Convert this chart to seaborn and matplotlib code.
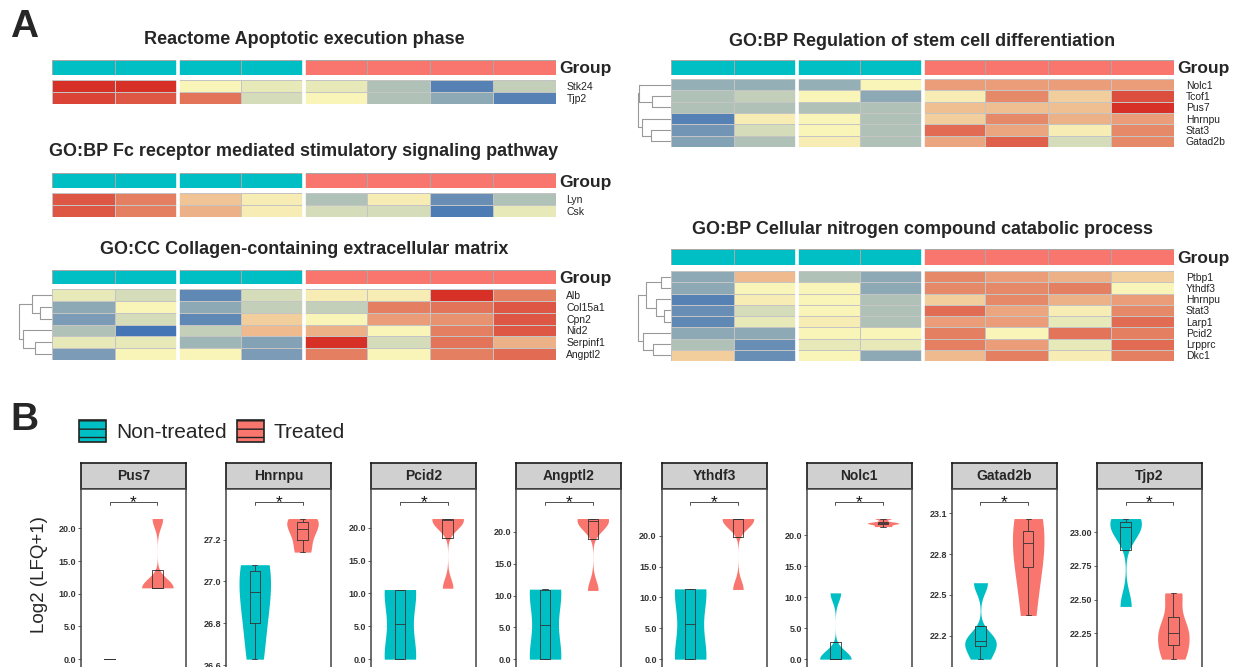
import numpy as np
import pandas as pd
import seaborn as sns
import matplotlib.pyplot as plt
from matplotlib.colors import LinearSegmentedColormap, ListedColormap
from matplotlib.patches import Patch

#%% data
TEAL = '#00BFC4'
SALMON = '#F8766D'
groups = ['Non-treated'] * 4 + ['Treated'] * 4
group_order = ['Non-treated', 'Treated']

# row z-scores (-1 blue, 0 yellow, 1 red)
apop_genes = ['Stk24', 'Tjp2']
apop_z = [
    [1.0, 1.0, 0.0, -0.1, -0.1, -0.4, -0.9, -0.3],
    [0.9, 0.8, 0.65, -0.2, 0.0, -0.4, -0.6, -0.9],
]

fc_genes = ['Lyn', 'Csk']
fc_z = [
    [0.8, 0.6, 0.25, 0.05, -0.4, 0.05, -0.8, -0.4],
    [0.8, 0.6, 0.35, 0.05, -0.2, -0.2, -0.95, -0.1],
]

coll_genes = ['Alb', 'Col15a1', 'Cpn2', 'Nid2', 'Serpinf1', 'Angptl2']
coll_z = [
    [-0.1, -0.2, -0.85, -0.2, 0.05, 0.05, 1.0, 0.6],
    [-0.6, 0.0, -0.6, -0.3, -0.3, 0.6, 0.65, 0.8],
    [-0.7, -0.2, -0.85, 0.2, 0.0, 0.45, 0.5, 0.8],
    [-0.4, -1.0, -0.3, 0.3, 0.35, 0.0, 0.6, 0.8],
    [-0.1, -0.1, -0.5, -0.65, 1.0, -0.2, 0.65, 0.35],
    [-0.7, 0.0, 0.0, -0.7, 0.6, 0.0, 0.6, 0.7],
]
coll_tree = [(1, 2, 0.37), (0, 6, 0.60), (4, 5, 0.52), (3, 8, 0.87), (7, 9, 1.0)]

stem_genes = ['Nolc1', 'Tcof1', 'Pus7', 'Hnrnpu', 'Stat3', 'Gatad2b']
stem_z = [
    [-0.55, -0.55, -0.55, 0.0, 0.45, 0.45, 0.45, 0.45],
    [-0.4, -0.3, 0.0, -0.6, 0.05, 0.55, 0.2, 0.85],
    [-0.4, -0.4, -0.4, -0.4, 0.28, 0.28, 0.28, 1.0],
    [-0.9, 0.05, 0.0, -0.4, 0.2, 0.55, 0.35, 0.45],
    [-0.75, -0.2, 0.0, -0.4, 0.7, 0.4, 0.05, 0.55],
    [-0.65, -0.4, 0.05, -0.4, 0.4, 0.75, -0.2, 0.55],
]
stem_tree = [(1, 2, 0.57), (0, 6, 0.96), (4, 5, 0.62), (3, 8, 0.87), (7, 9, 1.0)]

nitro_genes = ['Ptbp1', 'Ythdf3', 'Hnrnpu', 'Stat3', 'Larp1', 'Pcid2', 'Lrpprc', 'Dkc1']
nitro_z = [
    [-0.6, 0.3, -0.4, -0.6, 0.55, 0.45, 0.35, 0.2],
    [-0.6, 0.0, 0.0, -0.6, 0.55, 0.55, 0.6, 0.0],
    [-0.9, 0.05, 0.0, -0.4, 0.2, 0.55, 0.35, 0.45],
    [-0.8, -0.2, 0.0, -0.4, 0.7, 0.4, 0.05, 0.55],
    [-0.85, -0.1, 0.05, -0.4, 0.45, 0.45, -0.1, 0.7],
    [-0.6, -0.6, 0.0, 0.0, 0.6, 0.0, 0.65, 0.6],
    [-0.4, -0.8, -0.1, -0.1, 0.6, 0.45, -0.1, 0.7],
    [0.2, -0.8, 0.0, -0.6, 0.3, 0.6, 0.05, 0.6],
]
nitro_tree = [(0, 1, 0.31), (3, 4, 0.21), (2, 9, 0.46), (8, 10, 0.75),
              (6, 7, 0.56), (5, 12, 0.84), (11, 13, 1.0)]

# Log2(LFQ+1) per protein, 4 replicates per group
genes_b = ['Pus7', 'Hnrnpu', 'Pcid2', 'Angptl2', 'Ythdf3', 'Nolc1', 'Gatad2b', 'Tjp2']
nt_vals = [
    [0.0, 0.0, 0.0, 0.0],
    [26.63, 26.86, 27.04, 27.08],
    [0.0, 0.1, 10.5, 10.6],
    [0.0, 0.0, 10.8, 11.0],
    [0.0, 0.0, 11.3, 11.4],
    [0.0, 0.0, 0.05, 10.7],
    [22.03, 22.155, 22.165, 22.59],
    [22.45, 23.01, 23.07, 23.10],
]
tr_vals = [
    [10.9, 10.9, 11.0, 21.5],
    [27.14, 27.22, 27.28, 27.30],
    [10.8, 21.0, 21.3, 21.4],
    [10.8, 21.5, 21.9, 22.1],
    [11.3, 22.6, 22.7, 22.8],
    [21.4, 21.9, 22.0, 22.7],
    [22.35, 22.82, 22.94, 23.06],
    [22.06, 22.20, 22.31, 22.55],
]
b_ticks = [
    [0, 5, 10, 15, 20],
    [26.6, 26.8, 27.0, 27.2],
    [0, 5, 10, 15, 20],
    [0, 5, 10, 15, 20],
    [0, 5, 10, 15, 20],
    [0, 5, 10, 15, 20],
    [22.2, 22.5, 22.8, 23.1],
    [22.25, 22.5, 22.75, 23.0],
]
b_decimals = [1, 1, 1, 1, 1, 1, 1, 2]
# bandwidth multiplier for (non-treated, treated) violins
b_bw_adjust = [(1, 1), (1.3, 1), (1, 1), (1, 1), (1, 1), (1, 1), (1, 2.2), (1, 1)]

#%% style
sns.set_theme(style='white')
plt.rcParams['font.family'] = ['Liberation Sans', 'DejaVu Sans']
plt.rcParams['hatch.color'] = '#222222'

W, H = 1242, 667
fig = plt.figure(figsize=(W / 100, H / 100), dpi=100)
heat_cmap = LinearSegmentedColormap.from_list('pheat', ['#4575B4', '#F9F6BA', '#D73027'])


def px_axes(x0, y0, x1, y1):
    """Axes from pixel box (top-left origin)."""
    return fig.add_axes([x0 / W, 1 - y1 / H, (x1 - x0) / W, (y1 - y0) / H])


def draw_tree(ax, merges, n):
    pos = {i: i + 0.5 for i in range(n)}
    hgt = {i: 0.0 for i in range(n)}
    for k, (a, b, h) in enumerate(merges):
        for c in (a, b):
            ax.plot([hgt[c], h], [pos[c], pos[c]], color='#9a9a9a', lw=0.8)
        ax.plot([h, h], [pos[a], pos[b]], color='#9a9a9a', lw=0.8)
        pos[n + k] = (pos[a] + pos[b]) / 2
        hgt[n + k] = h
    ax.set_xlim(1.03, 0)
    ax.set_ylim(n, 0)
    ax.axis('off')


def draw_heatmap(title, genes, vals, x0, x1, y_title, y_group, y_cells,
                 tree=None, tree_x0=None, label_pad=7.5):
    fig.text((x0 + x1) / 2 / W, 1 - y_title / H, title, ha='center', va='center',
             fontsize=13, fontweight='bold')

    gax = px_axes(x0, y_group[0], x1, y_group[1])
    codes = pd.DataFrame([[group_order.index(g) for g in groups]], index=['Group'])
    sns.heatmap(codes, ax=gax, cmap=ListedColormap([TEAL, SALMON]), vmin=0, vmax=1,
                cbar=False, linewidths=0.6, linecolor='#a8a8a8', xticklabels=False,
                yticklabels=True)
    gax.yaxis.tick_right()
    gax.tick_params(axis='y', length=0, pad=2.5, labelsize=12.5, rotation=0)
    for t in gax.get_yticklabels():
        t.set_fontweight('bold')

    hax = px_axes(x0, y_cells[0], x1, y_cells[1])
    df = pd.DataFrame(vals, index=genes)
    sns.heatmap(df, ax=hax, cmap=heat_cmap, vmin=-1, vmax=1, cbar=False,
                linewidths=0.4, linecolor='#c4c4c4', xticklabels=False, yticklabels=True)
    hax.yaxis.tick_right()
    hax.tick_params(axis='y', length=0, pad=label_pad, labelsize=7.5, rotation=0,
                    labelcolor='#222222')
    for t in hax.get_yticklabels():
        t.set_horizontalalignment('left')

    # column gaps between sample blocks
    for ax in (gax, hax):
        for gx in (2, 4):
            ax.axvline(gx, color='white', lw=2.6)

    if tree is not None:
        tax = px_axes(tree_x0, y_cells[0], x0, y_cells[1])
        draw_tree(tax, tree, len(genes))


#%% panel A
fig.text(10 / W, 1 - 37 / H, 'A', fontsize=28, fontweight='bold', va='baseline')

draw_heatmap('Reactome Apoptotic execution phase', apop_genes, apop_z,
             52, 556, 40, (60, 75), (80, 104))
draw_heatmap('GO:BP Fc receptor mediated stimulatory signaling pathway', fc_genes, fc_z,
             52, 556, 152, (173, 188), (193, 217))
draw_heatmap('GO:CC Collagen-containing extracellular matrix', coll_genes, coll_z,
             52, 556, 250, (270, 284), (289, 360), tree=coll_tree, tree_x0=18)
draw_heatmap('GO:BP Regulation of stem cell differentiation', stem_genes, stem_z,
             671, 1174, 41, (60, 75), (79, 147), tree=stem_tree, tree_x0=637,
             label_pad=8.5)
draw_heatmap('GO:BP Cellular nitrogen compound catabolic process', nitro_genes, nitro_z,
             671, 1174, 229, (249, 265), (271, 361), tree=nitro_tree, tree_x0=637,
             label_pad=8.5)

#%% panel B
fig.text(10 / W, 1 - 430 / H, 'B', fontsize=28, fontweight='bold', va='baseline')
fig.text(40 / W, 1 - 575 / H, 'Log2 (LFQ+1)', rotation=90, ha='center', va='center',
         fontsize=13.5)

handles = [Patch(facecolor=TEAL, edgecolor='#222222', linewidth=1.2, hatch='--'),
           Patch(facecolor=SALMON, edgecolor='#222222', linewidth=1.2, hatch='--')]
fig.legend(handles, group_order, loc='center left', bbox_to_anchor=(79 / W, 1 - 431 / H),
           ncol=2, frameon=False, fontsize=15, handlelength=1.3, handleheight=1.3,
           handletextpad=0.5, columnspacing=0.45, borderaxespad=0, borderpad=0)


def nrd0(kde):
    """R's default bandwidth (bw.nrd0) as a factor of the sample sd."""
    x = np.asarray(kde.dataset).ravel()
    sd = x.std(ddof=1)
    if sd == 0:
        return 1.0
    q1, q3 = np.percentile(x, [25, 75])
    lo = min(sd, (q3 - q1) / 1.34)
    if lo == 0:
        lo = sd
    return 0.9 * lo * len(x) ** -0.2 / sd


palette = dict(zip(group_order, [TEAL, SALMON]))
for i, gene in enumerate(genes_b):
    x0 = 81 + 145.14 * i
    sub = pd.DataFrame({
        'group': ['Non-treated'] * len(nt_vals[i]) + ['Treated'] * len(tr_vals[i]),
        'value': nt_vals[i] + tr_vals[i],
    })

    sax = px_axes(x0, 463, x0 + 105, 489)
    sax.set_facecolor('#D0D0D0')
    sax.set_xticks([])
    sax.set_yticks([])
    for sp in sax.spines.values():
        sp.set_color('#1a1a1a')
        sp.set_linewidth(1.2)
    sax.text(0.5, 0.5, gene, ha='center', va='center', fontsize=10, fontweight='bold',
             transform=sax.transAxes)

    ax = px_axes(x0, 489, x0 + 105, 669)
    for g, adj in zip(group_order, b_bw_adjust[i]):
        sns.violinplot(data=sub[sub['group'] == g], x='group', y='value', order=group_order,
                       color=palette[g], cut=0, density_norm='width', width=0.66,
                       inner=None, linewidth=0, saturation=1, bw_method=nrd0,
                       bw_adjust=adj, ax=ax)
    sns.boxplot(data=sub, x='group', y='value', order=group_order, width=0.22, fill=False,
                color='#333333', linewidth=0.6, showfliers=False, ax=ax)

    lo = min(min(nt_vals[i]), min(tr_vals[i]))
    hi = max(max(nt_vals[i]), max(tr_vals[i]))
    r = hi - lo
    yb = hi + 0.12 * r
    ax.plot([0, 0, 1, 1], [yb - 0.025 * r, yb, yb, yb - 0.025 * r], color='#333333', lw=0.6)
    ax.text(0.5, yb - 0.04 * r, '*', ha='center', va='baseline', fontsize=12.5,
            color='#111111')

    ax.set_xlim(-0.6, 1.6)
    ax.set_ylim(lo - 0.07 * r, hi + 0.21 * r)
    ax.set_yticks(b_ticks[i])
    ax.set_yticklabels([f'{t:.{b_decimals[i]}f}' for t in b_ticks[i]])
    ax.set_xlabel('')
    ax.set_ylabel('')
    ax.tick_params(axis='x', length=0, labelbottom=False)
    ax.tick_params(axis='y', left=True, length=2, width=0.6, color='#444444',
                   labelsize=6.5, pad=1.5, labelcolor='#333333')
    for t in ax.get_yticklabels():
        t.set_fontweight('bold')
    for sp in ax.spines.values():
        sp.set_color('#444444')
        sp.set_linewidth(1.1)

fig.savefig('out.png', dpi=100)
